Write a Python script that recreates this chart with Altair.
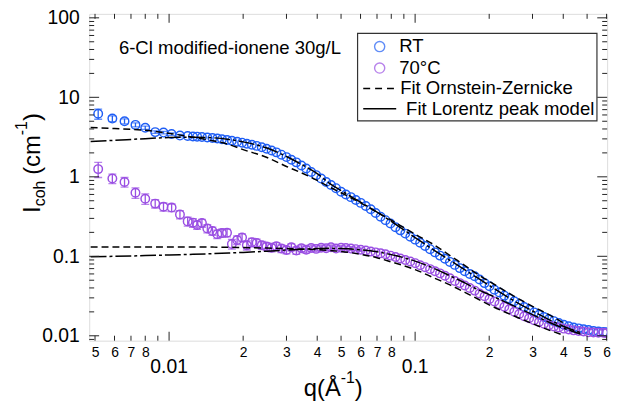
import altair as alt
import pandas as pd

FONT = "Liberation Sans"
BLUE = "#1f5ef5"
PURPLE = "#9a4fe3"
INK = "#222222"

# ---------------- data ----------------
q = [0.00515, 0.00588, 0.00659, 0.0073, 0.008, 0.00878, 0.00949, 0.01024, 0.01107,
     0.0119, 0.0125, 0.013, 0.0136, 0.0143, 0.015, 0.0157, 0.0164, 0.0172, 0.018,
     0.0189, 0.0198, 0.0207, 0.0217, 0.0227, 0.0238, 0.0249, 0.0261, 0.0273, 0.0286,
     0.03, 0.0314, 0.0329, 0.0345, 0.0361, 0.0378, 0.0396, 0.0415, 0.0435, 0.0455,
     0.0477, 0.05, 0.0523, 0.0548, 0.0574, 0.0601, 0.063, 0.066, 0.0691, 0.0724,
     0.0758, 0.0794, 0.0832, 0.0871, 0.0912, 0.0956, 0.1001, 0.1048, 0.1098, 0.115,
     0.1205, 0.1262, 0.1322, 0.1385, 0.145, 0.1519, 0.1591, 0.1667, 0.1746, 0.1828,
     0.1915, 0.2006, 0.2101, 0.22, 0.2305, 0.2414, 0.2529, 0.2649, 0.2774, 0.2906,
     0.3044, 0.3188, 0.3339, 0.3498, 0.3663, 0.3837, 0.4019, 0.421, 0.4409, 0.4618,
     0.4837, 0.5067, 0.5307, 0.5558, 0.5822, 0.6]

I_rt = [6.2, 5.4, 5.0, 4.5, 4.15, 3.65, 3.6, 3.45, 3.3,
        3.26, 3.22, 3.2, 3.17, 3.13, 3.08, 3.03, 2.97, 2.9, 2.84,
        2.76, 2.69, 2.61, 2.53, 2.45, 2.35, 2.25, 2.14, 2.03, 1.9,
        1.77, 1.64, 1.52, 1.39, 1.27, 1.15, 1.05, 0.95, 0.86, 0.79,
        0.72, 0.65, 0.6, 0.555, 0.51, 0.47, 0.43, 0.39, 0.35, 0.315,
        0.285, 0.258, 0.232, 0.212, 0.193, 0.176, 0.162, 0.148, 0.135, 0.123,
        0.112, 0.102, 0.093, 0.085, 0.078, 0.071, 0.065, 0.06, 0.056, 0.051,
        0.046, 0.042, 0.038, 0.035, 0.032, 0.0295, 0.0272, 0.025, 0.023, 0.0212,
        0.0197, 0.0184, 0.0172, 0.0162, 0.0153, 0.0145, 0.0138, 0.0132, 0.0127, 0.0124,
        0.0121, 0.0118, 0.0115, 0.0113, 0.0112, 0.0111]

I_70 = [1.25, 0.95, 0.86, 0.63, 0.53, 0.46, 0.42, 0.41, 0.335,
        0.275, 0.265, 0.248, 0.262, 0.224, 0.208, 0.19, 0.196, 0.198, 0.143,
        0.16, 0.172, 0.138, 0.15, 0.147, 0.138, 0.133, 0.128, 0.134, 0.125,
        0.12, 0.13, 0.118, 0.126, 0.121, 0.127, 0.124, 0.128, 0.126, 0.13,
        0.125, 0.128, 0.127, 0.125, 0.123, 0.121, 0.118, 0.115, 0.112, 0.109,
        0.106, 0.102, 0.098, 0.094, 0.09, 0.086, 0.082, 0.077, 0.073, 0.069,
        0.065, 0.061, 0.057, 0.053, 0.049, 0.046, 0.043, 0.04, 0.037, 0.034,
        0.0315, 0.029, 0.027, 0.025, 0.0232, 0.0216, 0.0201, 0.0188, 0.0176, 0.0166,
        0.0157, 0.0149, 0.0142, 0.0136, 0.0131, 0.0127, 0.0123, 0.012, 0.0117, 0.0115,
        0.0113, 0.0111, 0.011, 0.0109, 0.0109, 0.0108]

# error bars (for the first points of each series)
err_rt = [0.9, 0.46, 0.36, 0.26, 0.2, 0.14, 0.13, 0.12, 0.11]
err_70 = [0.27, 0.13, 0.12, 0.095, 0.08, 0.055, 0.05, 0.045, 0.04,
          0.035, 0.033, 0.03, 0.03, 0.027, 0.025, 0.023, 0.023, 0.022, 0.02,
          0.02, 0.02, 0.018, 0.018, 0.017, 0.016, 0.015, 0.014, 0.015, 0.014,
          0.013, 0.013, 0.012, 0.012, 0.011, 0.011, 0.01, 0.01, 0.009, 0.009,
          0.008, 0.008, 0.007, 0.007, 0.006, 0.006]

# fit curves
q_fit = [0.0048, 0.006, 0.008, 0.01, 0.0125, 0.015, 0.0175, 0.02, 0.025, 0.03,
         0.035, 0.04, 0.045, 0.05, 0.06, 0.07, 0.08, 0.09, 0.1, 0.12,
         0.14, 0.16, 0.18, 0.2, 0.25, 0.3, 0.35, 0.4, 0.45, 0.47]
oz_rt = [4.17, 4.05, 3.85, 3.52, 3.15, 2.85, 2.55, 2.2, 1.75, 1.35,
         1.1, 0.9, 0.74, 0.63, 0.47, 0.36, 0.285, 0.23, 0.19, 0.138,
         0.1, 0.076, 0.059, 0.0485, 0.032, 0.0235, 0.0185, 0.0145]
lor_rt = [2.78, 2.88, 3.02, 3.12, 3.15, 3.1, 2.95, 2.75, 2.3, 1.8,
          1.4, 1.1, 0.82, 0.67, 0.48, 0.36, 0.275, 0.215, 0.172, 0.118,
          0.087, 0.067, 0.053, 0.043, 0.028, 0.0205, 0.016, 0.0132, 0.0115, 0.011]
oz_70 = [0.131, 0.131, 0.131, 0.131, 0.131, 0.1305, 0.13, 0.129, 0.127, 0.125,
         0.123, 0.121, 0.118, 0.115, 0.106, 0.096, 0.085, 0.076, 0.068, 0.053,
         0.043, 0.035, 0.029, 0.0245, 0.018, 0.0142, 0.0118, 0.0102]
lor_70 = [0.099, 0.1, 0.102, 0.104, 0.106, 0.108, 0.11, 0.112, 0.116, 0.12,
          0.123, 0.125, 0.126, 0.125, 0.121, 0.114, 0.105, 0.096, 0.087, 0.07,
          0.056, 0.046, 0.038, 0.033, 0.024, 0.0185, 0.0148, 0.0125, 0.011, 0.0105]

# axes
Q_DOMAIN = [0.004735, 0.6032]
I_DOMAIN = [0.00868, 112.2]
x_label_vals = [0.005, 0.006, 0.007, 0.008, 0.02, 0.03, 0.04, 0.05, 0.06, 0.07, 0.08,
                0.2, 0.3, 0.4, 0.5, 0.6]
x_major_vals = [0.01, 0.1]
x_major_text = ["0.01", "0.1"]
x_minor_ticks = [0.005, 0.006, 0.007, 0.008, 0.009, 0.02, 0.03, 0.04, 0.05, 0.06,
                 0.07, 0.08, 0.09, 0.2, 0.3, 0.4, 0.5, 0.6]
y_major_ticks = [0.01, 0.1, 1, 10, 100]
y_minor_ticks = [0.009, 0.02, 0.03, 0.04, 0.05, 0.06, 0.07, 0.08, 0.09,
                 0.2, 0.3, 0.4, 0.5, 0.6, 0.7, 0.8, 0.9,
                 2, 3, 4, 5, 6, 7, 8, 9,
                 20, 30, 40, 50, 60, 70, 80, 90]

W, H = 523, 330

# ---------------- tables ----------------
df_pts = pd.concat([
    pd.DataFrame({"q": q, "I": I_rt, "s": "RT"}),
    pd.DataFrame({"q": q, "I": I_70, "s": "70°C"}),
], ignore_index=True)

rows = []
for name, II, ee in (("RT", I_rt, err_rt), ("70°C", I_70, err_70)):
    for qq, ii, e in zip(q, II, ee):
        rows.append({"q": qq, "lo": ii - e, "hi": ii + e, "s": name})
df_err = pd.DataFrame(rows)

fit_rows = []
for name, vals, kind in (("RT", oz_rt, "OZ"), ("70°C", oz_70, "OZ"),
                         ("RT", lor_rt, "LOR"), ("70°C", lor_70, "LOR")):
    for qq, v in zip(q_fit, vals):
        fit_rows.append({"q": qq, "I": v, "s": name, "k": kind})
df_fit = pd.DataFrame(fit_rows)

xscale = alt.Scale(type="log", domain=Q_DOMAIN, nice=False)
yscale = alt.Scale(type="log", domain=I_DOMAIN, nice=False)
xaxis = alt.Axis(values=x_label_vals, title=None, ticks=False, tickSize=0, domain=False,
                 grid=False, labelFont=FONT, labelFontSize=14, labelColor="black",
                 labelPadding=5, labelOverlap=False, labelFlush=False,
                 labelExpr="format(datum.value / pow(10, floor(log(datum.value) / LN10 + 1e-6)), '.0f')")
yaxis = alt.Axis(values=y_major_ticks, title=None, ticks=False, tickSize=0, domain=False,
                 grid=False, labelFont=FONT, labelFontSize=19.5, labelColor="black",
                 labelPadding=10, labelOverlap=False, labelFlush=False, format="~g")


def X(f):
    return alt.X(f, type="quantitative", scale=xscale, axis=xaxis)


def Y(f):
    return alt.Y(f, type="quantitative", scale=yscale, axis=yaxis)


color = alt.Color("s:N", scale=alt.Scale(domain=["RT", "70°C"], range=[BLUE, PURPLE]), legend=None)

bars = alt.Chart(df_err).mark_rule(strokeWidth=1.3, clip=True).encode(
    x=X("q"), y=Y("lo"), y2="hi", color=color)
cap_lo = alt.Chart(df_err).mark_tick(orient="horizontal", size=8, thickness=1.3, clip=True).encode(
    x=X("q"), y=Y("lo"), color=color)
cap_hi = alt.Chart(df_err).mark_tick(orient="horizontal", size=8, thickness=1.3, clip=True).encode(
    x=X("q"), y=Y("hi"), color=color)
pts = alt.Chart(df_pts).mark_point(shape="circle", filled=False, size=74, strokeWidth=1.45,
                                   opacity=1, clip=True).encode(x=X("q"), y=Y("I"), color=color)

oz = alt.Chart(df_fit).transform_filter("datum.k == 'OZ'").mark_line(
    color="black", strokeWidth=1.5, strokeDash=[7, 4], interpolate="monotone", clip=True
).encode(x=X("q"), y=Y("I"), detail="s:N")
lor = alt.Chart(df_fit).transform_filter("datum.k == 'LOR'").mark_line(
    color="black", strokeWidth=1.5, strokeDash=[16, 3, 3, 3], interpolate="monotone", clip=True
).encode(x=X("q"), y=Y("I"), detail="s:N")


# ticks (inward, all four sides)
def vticks(vals, length, side):
    d = pd.DataFrame({"v": vals})
    if side == "bottom":
        yy, yy2 = H, H - length
    else:
        yy, yy2 = 0, length
    return alt.Chart(d).mark_rule(color=INK, strokeWidth=1).encode(
        x=X("v"), y=alt.value(yy), y2=alt.value(yy2))


def hticks(vals, length, side):
    d = pd.DataFrame({"v": vals})
    if side == "left":
        xx, xx2 = 0, length
    else:
        xx, xx2 = W, W - length
    return alt.Chart(d).mark_rule(color=INK, strokeWidth=1).encode(
        y=Y("v"), x=alt.value(xx), x2=alt.value(xx2))


tick_layers = [
    vticks(x_minor_ticks, 5, "bottom"), vticks(x_major_vals, 9, "bottom"),
    vticks(x_minor_ticks, 5, "top"), vticks(x_major_vals, 9, "top"),
    hticks(y_minor_ticks, 5, "left"), hticks(y_major_ticks, 10, "left"),
    hticks(y_minor_ticks, 5, "right"), hticks(y_major_ticks, 10, "right"),
]

major_lbl = alt.Chart(pd.DataFrame({"v": x_major_vals, "t": x_major_text})).mark_text(
    font=FONT, fontSize=19.5, color="black", baseline="middle", align="center"
).encode(x=X("v"), y=alt.value(356.5), text="t:N")

one = pd.DataFrame({"a": [0]})


def txt(s, x, y, size, align="left", baseline="alphabetic", angle=0):
    kw = dict(font=FONT, fontSize=size, color="black", align=align, baseline=baseline, text=s)
    if angle:
        kw["angle"] = angle
    return alt.Chart(one).mark_text(**kw).encode(x=alt.value(x), y=alt.value(y))


# axis titles
title_layers = [
    txt("q(Å", 216.7, 386, 24),
    txt("-1", 254.0, 373, 16),
    txt(")", 268.2, 386, 24),
    txt("I", -50, 201, 24, angle=270),
    txt("coh", -45, 194.3, 16, angle=270),
    txt("(cm", -50, 162.5, 24, angle=270),
    txt("-1", -63, 122.5, 16, angle=270),
    txt(")", -50, 108.3, 24, angle=270),
    txt("6-Cl modified-ionene 30g/L", 30, 34.7, 18.7, baseline="middle"),
]

# legend
legend_box = alt.Chart(one).mark_rect(fill="white", stroke="#333333", strokeWidth=1.2).encode(
    x=alt.value(271), x2=alt.value(512.7), y=alt.value(19.7), y2=alt.value(108))
leg_layers = [
    legend_box,
    alt.Chart(one).mark_point(shape="circle", filled=False, size=105, strokeWidth=1.4,
                              color=BLUE).encode(x=alt.value(293.3), y=alt.value(33)),
    alt.Chart(one).mark_point(shape="circle", filled=False, size=105, strokeWidth=1.4,
                              color=PURPLE).encode(x=alt.value(293.3), y=alt.value(54.7)),
    alt.Chart(one).mark_rule(color="black", strokeWidth=1.5, strokeDash=[7, 5]).encode(
        x=alt.value(276.7), x2=alt.value(309), y=alt.value(75.3)),
    alt.Chart(one).mark_rule(color="black", strokeWidth=1.5).encode(
        x=alt.value(276.7), x2=alt.value(310), y=alt.value(95.7)),
    txt("RT", 313, 33, 18.7, baseline="middle"),
    txt("70°C", 313, 54.7, 18.7, baseline="middle"),
    txt("Fit Ornstein-Zernicke", 314, 75.3, 18.7, baseline="middle"),
    txt("Fit Lorentz peak model", 320, 95.7, 18.7, baseline="middle"),
]

chart = alt.layer(
    pts, bars, cap_lo, cap_hi, oz, lor, *tick_layers, major_lbl, *title_layers, *leg_layers
).properties(
    width=W, height=H,
    autosize=alt.AutoSizeParams(type="none"),
    padding={"left": 82, "top": 4, "right": 15, "bottom": 60},
).configure_view(stroke="#333333", strokeWidth=1.2).configure(background="white")

chart.save("out.html", embed_options={"renderer": "svg", "actions": False})
